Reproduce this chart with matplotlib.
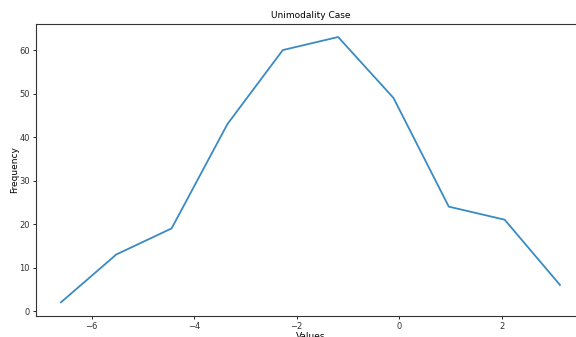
import matplotlib
matplotlib.use('Agg')
import matplotlib.pyplot as plt

# Bin centres and counts
values = [-6.60, -5.52, -4.44, -3.35, -2.27, -1.19, -0.11, 0.97, 2.06, 3.14]
frequency = [2, 13, 19, 43, 60, 63, 49, 24, 21, 6]


def main() -> None:
    fig = plt.figure(figsize=(5.76, 3.37), dpi=100)
    # the reference is cropped on the right, so the axes run past the edge
    ax = fig.add_axes([0.0625, 0.0635, 0.953, 0.866])
    ax.plot(values, frequency, color='#3a8ac4', linewidth=1.3)
    ax.set_title("Unimodality Case", fontsize=6.5, pad=4)
    ax.set_xlabel("Values", fontsize=6.5, labelpad=1)
    ax.set_ylabel("Frequency", fontsize=6.5, labelpad=0)
    ax.set_xticks([-6, -4, -2, 0, 2])
    ax.set_yticks([0, 10, 20, 30, 40, 50, 60])
    ax.tick_params(labelsize=6, length=2.5, width=0.6, pad=2, labelcolor='#333333')
    for s in ax.spines.values():
        s.set_linewidth(0.8)
        s.set_color('#333333')
    fig.savefig('out.png', dpi=100)


if __name__ == '__main__':
    main()
